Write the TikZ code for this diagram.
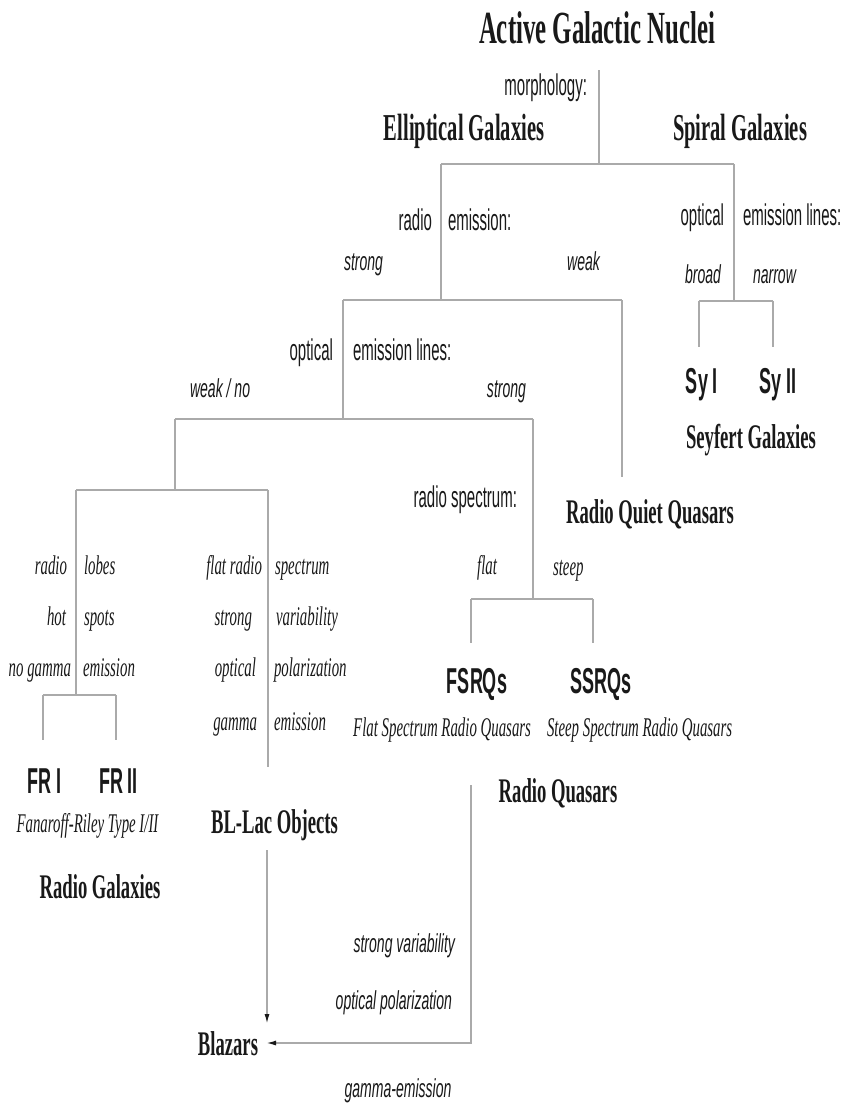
\documentclass[tikz,border=0pt]{standalone}
\usepackage{fontspec}
\setmainfont{Liberation Serif}
\newfontfamily\fSer{Liberation Serif}[FakeStretch=0.54]
\newfontfamily\fSerI{Liberation Serif}[FakeStretch=0.55]
\newfontfamily\fSan{Liberation Sans}[FakeStretch=0.5]
\newfontfamily\fSanI{Liberation Sans}[FakeStretch=0.54]
\usetikzlibrary{arrows.meta}
\definecolor{linegray}{RGB}{170,170,170}
\definecolor{ink}{RGB}{25,25,25}
\begin{document}
\begin{tikzpicture}[x=1pt,y=-1pt,
  every node/.style={inner sep=0pt, outer sep=0pt, text=ink},
  biggest/.style={font=\fSer\bfseries\fontsize{46}{48}\selectfont},
  bigger/.style={font=\fSer\bfseries\fontsize{38}{40}\selectfont},
  big/.style={font=\fSer\bfseries\fontsize{34.5}{36}\selectfont},
  lab/.style={font=\fSan\fontsize{30}{32}\selectfont},
  ilab/.style={font=\fSanI\itshape\fontsize{26}{28}\selectfont},
  slab/.style={font=\fSerI\itshape\fontsize{27}{29}\selectfont},
  cls/.style={font=\fSan\bfseries\fontsize{36}{38}\selectfont},
  conn/.style={draw=linegray, line width=1.6pt},
  arr/.style={conn, -{Latex[length=10pt,width=5pt,color=ink]}}
]
\fill[white] (0,0) rectangle (845,1106);
\useasboundingbox (0,0) rectangle (845,1106);

% ---------- text nodes ----------
\node[biggest, anchor=base] (agn) at (597,43) {Active Galactic Nuclei};
\node[lab, anchor=base east] (morph) at (587,95) {morphology:};
\node[bigger, anchor=base] (ell) at (464,140) {Elliptical Galaxies};
\node[bigger, anchor=base] (spi) at (740,140) {Spiral Galaxies};

\node[lab, anchor=base east] (radio1) at (432,230) {radio};
\node[lab, anchor=base west] (emis1) at (448,230) {emission:};
\node[ilab, anchor=base west] (strong1) at (344,270) {strong};
\node[ilab, anchor=base east] (weak1) at (600,270) {weak};

\node[lab, anchor=base east] (opt1) at (333,360) {optical};
\node[lab, anchor=base west] (eml1) at (353,360) {emission lines:};
\node[ilab, anchor=base west] (weakno) at (190,397) {weak / no};
\node[ilab, anchor=base east] (strong2) at (526,397) {strong};

\node[lab, anchor=base east] (opt2) at (724,225) {optical};
\node[lab, anchor=base west] (eml2) at (743,225) {emission lines:};
\node[ilab, anchor=base east] (broad) at (721,283) {broad};
\node[ilab, anchor=base west] (narrow) at (753,283) {narrow};
\node[cls, anchor=base] (sy1) at (702,393) {Sy I};
\node[cls, anchor=base] (sy2) at (778,393) {Sy II};
\node[big, anchor=base] (sey) at (751,448) {Seyfert Galaxies};

\node[lab, anchor=base east] (rspec) at (517,507) {radio spectrum:};
\node[big, anchor=base] (rqq) at (650,523) {Radio Quiet Quasars};
\node[slab, anchor=base east] (flat) at (497,574) {flat};
\node[slab, anchor=base west] (steep) at (553,575) {steep};
\node[cls, anchor=base] (fsrq) at (477,693) {FSRQs};
\node[cls, anchor=base] (ssrq) at (601,693) {SSRQs};
\node[slab, anchor=base east] (fsrqd) at (531,736) {Flat Spectrum Radio Quasars};
\node[slab, anchor=base west] (ssrqd) at (547,736) {Steep Spectrum Radio Quasars};
\node[big, anchor=base] (rq) at (558,802) {Radio Quasars};

\node[slab, anchor=base east] (l1a) at (67,574) {radio};
\node[slab, anchor=base west] (l1b) at (84,574) {lobes};
\node[slab, anchor=base east] (l2a) at (66,625) {hot};
\node[slab, anchor=base west] (l2b) at (84,625) {spots};
\node[slab, anchor=base east] (l3a) at (71,676) {no gamma};
\node[slab, anchor=base west] (l3b) at (83,676) {emission};

\node[slab, anchor=base east] (b1a) at (262,574) {flat radio};
\node[slab, anchor=base west] (b1b) at (275,574) {spectrum};
\node[slab, anchor=base east] (b2a) at (252,625) {strong};
\node[slab, anchor=base west] (b2b) at (276,625) {variability};
\node[slab, anchor=base east] (b3a) at (256,676) {optical};
\node[slab, anchor=base west] (b3b) at (274,676) {polarization};
\node[slab, anchor=base east] (b4a) at (257,730) {gamma};
\node[slab, anchor=base west] (b4b) at (274,730) {emission};

\node[cls, anchor=base] (fr1) at (44.5,793) {FR I};
\node[cls, anchor=base] (fr2) at (118.5,793) {FR II};
\node[slab, anchor=base] (frd) at (87.5,832) {Fanaroff-Riley Type I/II};
\node[big, anchor=base] (rg) at (100,898) {Radio Galaxies};
\node[big, anchor=base] (bll) at (274.5,833) {BL-Lac Objects};

\node[ilab, anchor=base east] (sv) at (455,952) {strong variability};
\node[ilab, anchor=base east] (op) at (452,1009) {optical polarization};
\node[ilab, anchor=base] (ge) at (398,1097) {gamma-emission};
\node[big, anchor=base east] (blz) at (258,1055) {Blazars};

% ---------- junction coordinates ----------
\coordinate (agnS) at (599,70);
\coordinate (j0) at (599,164);
\coordinate (jE) at (441,164);
\coordinate (jS) at (734,164);
\coordinate (jR) at (441,300);
\coordinate (jRs) at (343,300);
\coordinate (jRw) at (622,300);
\coordinate (rqqN) at (622,477);
\coordinate (jO) at (343,419);
\coordinate (jOw) at (175,419);
\coordinate (jOs) at (533,419);
\coordinate (jL) at (175,490);
\coordinate (jLg) at (76,490);
\coordinate (jLb) at (268,490);
\coordinate (bllN) at (268,767);
\coordinate (jG) at (76,695);
\coordinate (jG1) at (43,695);
\coordinate (jG2) at (116,695);
\coordinate (fr1N) at (43,740);
\coordinate (fr2N) at (116,740);
\coordinate (jQ) at (533,599);
\coordinate (jQf) at (471,599);
\coordinate (jQs) at (593,599);
\coordinate (fsN) at (471,643);
\coordinate (ssN) at (593,643);
\coordinate (jY) at (734,301);
\coordinate (jY1) at (699,301);
\coordinate (jY2) at (773,301);
\coordinate (sy1N) at (699,347);
\coordinate (sy2N) at (773,347);
\coordinate (bllS) at (267,850);
\coordinate (blzA) at (267,1024);
\coordinate (rqS) at (471,785);
\coordinate (rqC) at (471,1043);
\coordinate (blzB) at (266,1043);

% ---------- connectors ----------
\draw[conn] (agnS) -- (j0);
\draw[conn] (jE) -- (jS);
\draw[conn] (jE) -- (jR);
\draw[conn] (jRs) -- (jRw);
\draw[conn] (jRw) -- (rqqN);
\draw[conn] (jRs) -- (jO);
\draw[conn] (jOw) -- (jOs);
\draw[conn] (jOw) -- (jL);
\draw[conn] (jLg) -- (jLb);
\draw[conn] (jLg) -- (jG);
\draw[conn] (jG1) -- (jG2);
\draw[conn] (jG1) -- (fr1N);
\draw[conn] (jG2) -- (fr2N);
\draw[conn] (jLb) -- (bllN);
\draw[conn] (jOs) -- (jQ);
\draw[conn] (jQf) -- (jQs);
\draw[conn] (jQf) -- (fsN);
\draw[conn] (jQs) -- (ssN);
\draw[conn] (jS) -- (jY);
\draw[conn] (jY1) -- (jY2);
\draw[conn] (jY1) -- (sy1N);
\draw[conn] (jY2) -- (sy2N);
\draw[arr] (bllS) -- (blzA);
\draw[arr] (rqS) -- (rqC) -- (blzB);
\end{tikzpicture}
\end{document}
